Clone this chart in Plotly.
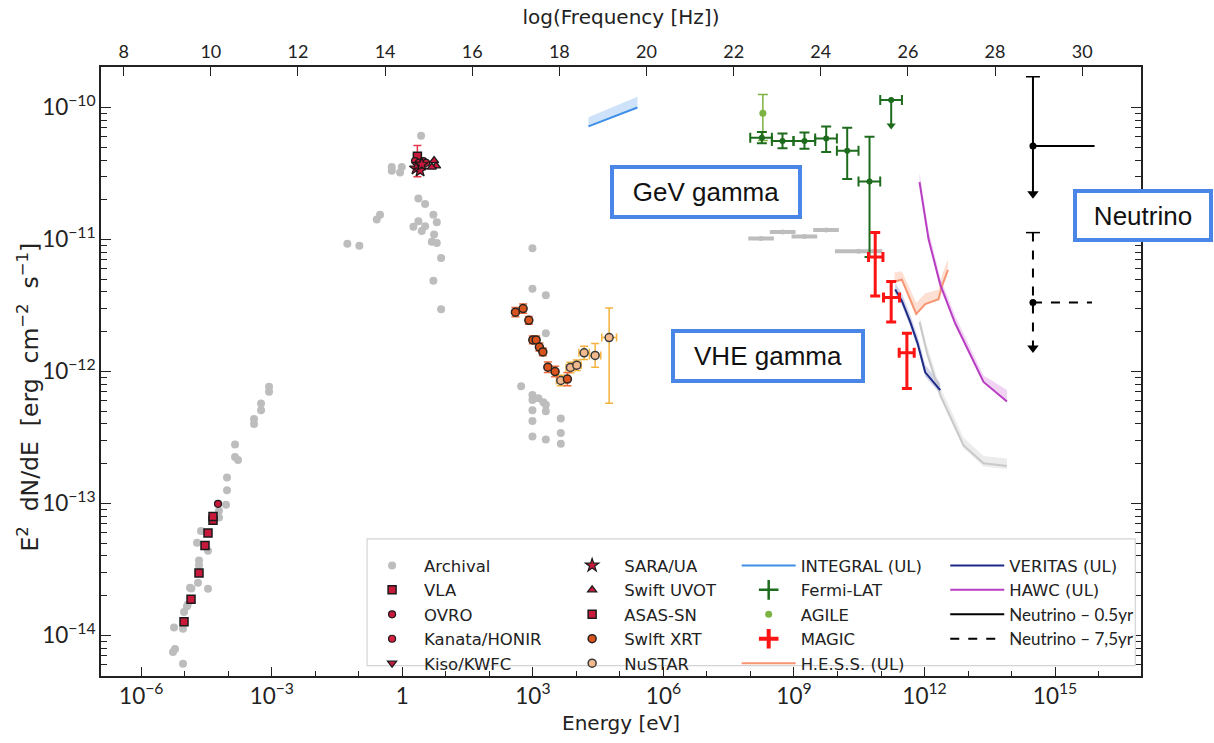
import plotly.graph_objects as go

# ---------------------------------------------------------------
# Broadband SED values, stored as log10 of energy [eV] and
# log10 of E^2 dN/dE [erg cm^-2 s^-1]
# ---------------------------------------------------------------
arch_logE = [-3.064, -3.064, -3.248, -3.248, -3.409, -3.409, -3.846, -3.846, -3.777,
             -4.030, -4.030, -4.053, -4.214, -4.214, -4.628, -4.720, -4.467, -4.674,
             -4.674, -4.697, -4.880, -4.467, -4.949, -5.018, -5.248, -5.041, -5.225,
             -5.271, -5.041, -4.849, -4.933,
             0.430, -0.244, -0.014, -0.053, -0.244, 0.368, 0.522, -0.513, -0.589, 0.713,
             0.791, 0.253, 0.368, 0.522, 0.446, 0.729, 0.676, 0.791, -1.264, -0.989,
             0.890, 0.713, 0.890,
             2.989, 2.989, 3.297, 3.297, 2.729, 2.989, 2.989, 3.126, 3.241, 3.297,
             2.989, 3.297, 2.989, 3.641, 2.989, 3.297, 3.641, 3.641]
arch_logF = [-12.117, -12.154, -12.243, -12.295, -12.361, -12.398, -12.553, -12.649, -12.671,
             -12.804, -12.900, -13.011, -13.055, -13.107, -13.210, -13.299, -13.358, -13.432,
             -13.469, -13.602, -13.639, -13.646, -13.779, -13.823, -13.941, -13.949, -14.104,
             -14.126, -14.215, -13.644, -13.767,
             -10.214, -10.451, -10.451, -10.493, -10.480, -10.690, -10.731, -10.812, -10.849, -10.812,
             -10.869, -10.904, -10.862, -10.899, -10.936, -10.963, -11.017, -11.027, -11.032, -11.047,
             -11.140, -11.312, -11.529,
             -11.066, -11.374, -11.423, -11.711, -12.112, -12.179, -12.216, -12.204, -12.233, -12.253,
             -12.295, -12.302, -12.376, -12.356, -12.494, -12.516, -12.467, -12.548]

vla_logE = [-5.018, -4.857, -4.674, -4.536, -4.467, -4.352, -4.352]
vla_logF = [-13.897, -13.727, -13.527, -13.320, -13.224, -13.128, -13.099]

ovro_logE = [-4.237]
ovro_logF = [-13.003]

kanata_logE = [0.292, 0.377, 0.483, 0.545]
kanata_logF = [-10.406, -10.419, -10.406, -10.419]

kiso_logE = [0.330, 0.407]
kiso_logF = [-10.431, -10.443]

sara_logE = [0.315, 0.407, 0.446]
sara_logF = [-10.461, -10.476, -10.431]

uvot_logE = [0.729, 0.775, 0.676]
uvot_logF = [-10.402, -10.443, -10.451]

asas_logE = [0.345]
asas_logF = [-10.369]
asas_logF_hi = [-10.288]
asas_logF_lo = [-10.524]

xrt_logE = [2.598, 2.775, 2.906, 2.998, 3.074, 3.149, 3.228, 3.343, 3.510, 3.793]
xrt_logF = [-11.551, -11.524, -11.613, -11.761, -11.761, -11.815, -11.852, -11.968, -12.001, -12.058]
xrt_dlogF = [0.035, 0.035, 0.03, 0.03, 0.03, 0.03, 0.03, 0.04, 0.04, 0.05]

nustar_logE = [3.641, 3.862, 4.009, 4.177, 4.430, 4.752]
nustar_logF = [-12.068, -11.970, -11.953, -11.859, -11.879, -11.743]
nustar_dlogF_hi = [0.04, 0.04, 0.04, 0.05, 0.09, 0.223]
nustar_dlogF_lo = [0.04, 0.04, 0.04, 0.05, 0.09, 0.498]
nustar_dlogE = [0.10, 0.10, 0.10, 0.12, 0.13, 0.17]

integral_logE = [4.276, 5.402]
integral_logF = [-10.143, -10.000]
integral_logF_top = [-10.074, -9.919]

fermi_logE = [8.262, 8.736, 9.241, 9.740, 10.223, 10.736]
fermi_logF = [-10.229, -10.254, -10.254, -10.234, -10.328, -10.561]
fermi_logF_hi = [-10.185, -10.197, -10.190, -10.143, -10.153, -10.222]
fermi_logF_lo = [-10.271, -10.308, -10.313, -10.338, -10.542, -11.133]
fermi_logE_lo = [7.995, 8.492, 8.989, 9.487, 9.986, 10.483]
fermi_logE_hi = [8.492, 8.989, 9.487, 9.986, 10.483, 10.982]

fermi_ul_logE = [11.234]
fermi_ul_logF = [-9.944]
fermi_ul_logE_lo = [10.982]
fermi_ul_logE_hi = [11.481]
fermi_ul_logF_tip = [-10.136]

agile_logE = [8.285]
agile_logF = [-10.044]
agile_logF_hi = [-9.902]
agile_logF_lo = [-10.250]

lat_arch_logE = [8.239, 8.736, 9.241, 9.740, 10.483]
lat_arch_logF = [-10.993, -10.943, -10.978, -10.928, -11.089]
lat_arch_logE_lo = [7.995, 8.492, 8.989, 9.487, 9.986]
lat_arch_logE_hi = [8.492, 8.989, 9.487, 9.986, 10.982]

magic_logE = [10.867, 11.234, 11.595]
magic_logF = [-11.133, -11.440, -11.859]
magic_logF_hi = [-10.948, -11.318, -11.711]
magic_logF_lo = [-11.428, -11.625, -12.130]
magic_logE_lo = [10.713, 11.057, 11.418]
magic_logE_hi = [11.044, 11.425, 11.763]

hess_logE = [11.310, 11.480, 11.809, 12.016, 12.322, 12.400, 12.538]
hess_logF = [-11.318, -11.305, -11.564, -11.490, -11.453, -11.354, -11.231]
hess_logF_top = [-11.25, -11.24, -11.48, -11.41, -11.38, -11.27, -11.15]

veritas_logE = [11.326, 11.480, 11.671, 11.839, 12.016, 12.361]
veritas_logF = [-11.379, -11.465, -11.625, -11.785, -12.007, -12.142]
veritas_logF_top = [-11.33, -11.41, -11.57, -11.73, -11.95, -12.09]
veritas_logF_bot = [-11.41, -11.50, -11.66, -11.82, -12.04, -12.17]

vhe_arch_logE = [11.885, 12.055, 12.361, 12.897, 13.356, 13.894]
vhe_arch_logF = [-11.625, -11.859, -12.179, -12.561, -12.696, -12.716]
vhe_arch_logF_top = [-11.58, -11.80, -12.12, -12.50, -12.64, -12.66]
vhe_arch_logF_bot = [-11.65, -11.88, -12.20, -12.58, -12.72, -12.74]

hawc_logE = [11.885, 12.092, 12.361, 12.706, 13.356, 13.894]
hawc_logF = [-10.566, -10.997, -11.342, -11.637, -12.080, -12.228]
hawc_logF_top = [-10.49, -10.93, -11.29, -11.58, -12.03, -12.14]

nu_names = ["Neutrino – 0.5yr", "Neutrino – 7,5yr"]
nu_logE = [14.492, 14.492]
nu_logE_hi = [15.908, 15.848]
nu_logF = [-10.291, -11.477]
nu_logF_top = [-9.767, -10.948]
nu_logF_tip = [-10.653, -11.822]

# axis ranges (log10 units)
x_range = [-6.926, 16.975]
y_range = [-14.308, -9.693]
freq_range = [7.479, 31.35]


def lin(vals):
    return [10 ** v for v in vals]


def up(c, h):
    return [10 ** b - 10 ** a for a, b in zip(c, h)]


def down(c, l):
    return [10 ** a - 10 ** b for a, b in zip(c, l)]


# ---------------------------------------------------------------
# colours
# ---------------------------------------------------------------
GREY = "#bdbdbd"
CRIMSON = "#c8193c"
XRT_FILL = "#d9531e"
XRT_ERR = "#ee6a3c"
NU_FILL = "#f2b98e"
NU_ERR = "#f3b33d"
FERMI = "#1d6b1d"
AGILE = "#7cb342"
MAGIC = "#ff1414"
INTEGRAL = "#3d8fe8"
HESS = "#f79471"
VERITAS = "#1f2b88"
HAWC = "#b83dc2"
EDGE = "#1a1a1a"

# legend columns
L1, L2, L3, L4 = "legend", "legend2", "legend3", "legend4"

fig = go.Figure()


def band(logE, top, bottom, color):
    """Shaded band between two curves (no legend entry)."""
    fig.add_trace(go.Scatter(x=lin(logE), y=lin(top), mode="lines", line=dict(width=0),
                             showlegend=False, hoverinfo="skip"))
    fig.add_trace(go.Scatter(x=lin(logE), y=lin(bottom), mode="lines", line=dict(width=0),
                             fill="tonexty", fillcolor=color, showlegend=False,
                             hoverinfo="skip"))


# archival points
fig.add_trace(go.Scatter(
    x=lin(arch_logE), y=lin(arch_logF), mode="markers", name="Archival",
    marker=dict(color=GREY, size=8), legend=L1, legendrank=1))

# archival LAT bins
fig.add_trace(go.Scatter(
    x=lin(lat_arch_logE), y=lin(lat_arch_logF), mode="markers", showlegend=False,
    marker=dict(color=GREY, size=5),
    error_x=dict(type="data", symmetric=False, array=up(lat_arch_logE, lat_arch_logE_hi),
                 arrayminus=down(lat_arch_logE, lat_arch_logE_lo), color=GREY,
                 thickness=4, width=2)))

# shaded uncertainty bands
band(vhe_arch_logE, vhe_arch_logF_top, vhe_arch_logF_bot, "rgba(200,200,200,0.35)")
band(integral_logE, integral_logF_top, integral_logF, "rgba(61,143,232,0.25)")
band(hess_logE, hess_logF_top, hess_logF, "rgba(247,148,113,0.3)")
band(veritas_logE, veritas_logF_top, veritas_logF_bot, "rgba(31,43,136,0.2)")
band(hawc_logE, hawc_logF_top, hawc_logF, "rgba(200,80,210,0.25)")

# limit curves
fig.add_trace(go.Scatter(x=lin(vhe_arch_logE), y=lin(vhe_arch_logF), mode="lines",
                         line=dict(color="#c9c9c9", width=2), showlegend=False))
fig.add_trace(go.Scatter(x=lin(integral_logE), y=lin(integral_logF), mode="lines",
                         line=dict(color=INTEGRAL, width=2), name="INTEGRAL (UL)",
                         legend=L3, legendrank=1))
fig.add_trace(go.Scatter(x=lin(hess_logE), y=lin(hess_logF), mode="lines",
                         line=dict(color=HESS, width=2), name="H.E.S.S. (UL)",
                         legend=L3, legendrank=5))
fig.add_trace(go.Scatter(x=lin(veritas_logE), y=lin(veritas_logF), mode="lines",
                         line=dict(color=VERITAS, width=2), name="VERITAS (UL)",
                         legend=L4, legendrank=1))
fig.add_trace(go.Scatter(x=lin(hawc_logE), y=lin(hawc_logF), mode="lines",
                         line=dict(color=HAWC, width=2), name="HAWC (UL)",
                         legend=L4, legendrank=2))

# radio
fig.add_trace(go.Scatter(
    x=lin(vla_logE), y=lin(vla_logF), mode="markers", name="VLA", legend=L1, legendrank=2,
    marker=dict(symbol="square", color=CRIMSON, size=8, line=dict(color=EDGE, width=1.5))))
fig.add_trace(go.Scatter(
    x=lin(ovro_logE), y=lin(ovro_logF), mode="markers", name="OVRO", legend=L1, legendrank=3,
    marker=dict(symbol="circle", color=CRIMSON, size=7, line=dict(color=EDGE, width=1.2))))

# optical / UV
fig.add_trace(go.Scatter(
    x=lin(asas_logE), y=lin(asas_logF), mode="markers", name="ASAS-SN", legend=L2, legendrank=3,
    marker=dict(symbol="square", color=CRIMSON, size=8, line=dict(color=EDGE, width=1.5)),
    error_y=dict(type="data", symmetric=False, array=up(asas_logF, asas_logF_hi),
                 arrayminus=down(asas_logF, asas_logF_lo), color="#e8354a",
                 thickness=1.5, width=4)))
fig.add_trace(go.Scatter(
    x=lin(kanata_logE), y=lin(kanata_logF), mode="markers", name="Kanata/HONIR",
    legend=L1, legendrank=4,
    marker=dict(symbol="circle", color="#d81f3f", size=7, line=dict(color=EDGE, width=1.2))))
fig.add_trace(go.Scatter(
    x=lin(kiso_logE), y=lin(kiso_logF), mode="markers", name="Kiso/KWFC", legend=L1, legendrank=5,
    marker=dict(symbol="triangle-down", color=CRIMSON, size=8, line=dict(color=EDGE, width=1.2))))
fig.add_trace(go.Scatter(
    x=lin(sara_logE), y=lin(sara_logF), mode="markers", name="SARA/UA", legend=L2, legendrank=1,
    marker=dict(symbol="star", color=CRIMSON, size=10, line=dict(color=EDGE, width=1.2))))
fig.add_trace(go.Scatter(
    x=lin(uvot_logE), y=lin(uvot_logF), mode="markers", name="Swift UVOT", legend=L2, legendrank=2,
    marker=dict(symbol="triangle-up", color=CRIMSON, size=8, line=dict(color=EDGE, width=1.2))))

# X-ray
fig.add_trace(go.Scatter(
    x=lin(nustar_logE), y=lin(nustar_logF), mode="markers", name="NuSTAR", legend=L2, legendrank=5,
    marker=dict(symbol="circle", color=NU_FILL, size=8, line=dict(color="#3a3a3a", width=1.5)),
    error_y=dict(type="data", symmetric=False,
                 array=[10 ** (c + d) - 10 ** c for c, d in zip(nustar_logF, nustar_dlogF_hi)],
                 arrayminus=[10 ** c - 10 ** (c - d) for c, d in zip(nustar_logF, nustar_dlogF_lo)],
                 color=NU_ERR, thickness=1.5, width=4),
    error_x=dict(type="data", symmetric=False,
                 array=[10 ** (c + d) - 10 ** c for c, d in zip(nustar_logE, nustar_dlogE)],
                 arrayminus=[10 ** c - 10 ** (c - d) for c, d in zip(nustar_logE, nustar_dlogE)],
                 color=NU_ERR, thickness=1.5, width=4)))
fig.add_trace(go.Scatter(
    x=lin(xrt_logE), y=lin(xrt_logF), mode="markers", name="Swlft XRT", legend=L2, legendrank=4,
    marker=dict(symbol="circle", color=XRT_FILL, size=8, line=dict(color="#2a2420", width=1.5)),
    error_y=dict(type="data", symmetric=False,
                 array=[10 ** (c + d) - 10 ** c for c, d in zip(xrt_logF, xrt_dlogF)],
                 arrayminus=[10 ** c - 10 ** (c - d) for c, d in zip(xrt_logF, xrt_dlogF)],
                 color=XRT_ERR, thickness=1.5, width=4)))

# gamma rays
fig.add_trace(go.Scatter(
    x=lin(agile_logE), y=lin(agile_logF), mode="markers", name="AGILE", legend=L3, legendrank=3,
    marker=dict(symbol="circle", color=AGILE, size=7),
    error_y=dict(type="data", symmetric=False, array=up(agile_logF, agile_logF_hi),
                 arrayminus=down(agile_logF, agile_logF_lo), color=AGILE,
                 thickness=1.5, width=5)))
fig.add_trace(go.Scatter(
    x=lin(fermi_logE), y=lin(fermi_logF), mode="markers", showlegend=False,
    marker=dict(symbol="circle", color=FERMI, size=6),
    error_y=dict(type="data", symmetric=False, array=up(fermi_logF, fermi_logF_hi),
                 arrayminus=down(fermi_logF, fermi_logF_lo), color=FERMI,
                 thickness=2, width=5),
    error_x=dict(type="data", symmetric=False, array=up(fermi_logE, fermi_logE_hi),
                 arrayminus=down(fermi_logE, fermi_logE_lo), color=FERMI,
                 thickness=2, width=5)))
# Fermi-LAT upper limit: horizontal bin, then a downward arrow
fig.add_trace(go.Scatter(
    x=lin(fermi_ul_logE), y=lin(fermi_ul_logF), mode="markers", showlegend=False,
    marker=dict(symbol="circle", color=FERMI, size=6),
    error_x=dict(type="data", symmetric=False, array=up(fermi_ul_logE, fermi_ul_logE_hi),
                 arrayminus=down(fermi_ul_logE, fermi_ul_logE_lo), color=FERMI,
                 thickness=2, width=5)))
fig.add_trace(go.Scatter(
    x=lin(fermi_ul_logE * 2), y=lin(fermi_ul_logF + fermi_ul_logF_tip), mode="lines",
    line=dict(color=FERMI, width=2), showlegend=False))
fig.add_trace(go.Scatter(
    x=lin(fermi_ul_logE), y=lin(fermi_ul_logF_tip), mode="markers", showlegend=False,
    marker=dict(symbol="triangle-down", color=FERMI, size=8)))
fig.add_trace(go.Scatter(
    x=[None], y=[None], mode="markers", name="Fermi-LAT", legend=L3, legendrank=2,
    marker=dict(symbol="cross-thin", size=14, line=dict(color=FERMI, width=2.5))))

fig.add_trace(go.Scatter(
    x=lin(magic_logE), y=lin(magic_logF), mode="markers", showlegend=False,
    marker=dict(symbol="circle", color=MAGIC, size=3),
    error_y=dict(type="data", symmetric=False, array=up(magic_logF, magic_logF_hi),
                 arrayminus=down(magic_logF, magic_logF_lo), color=MAGIC,
                 thickness=3, width=5),
    error_x=dict(type="data", symmetric=False, array=up(magic_logE, magic_logE_hi),
                 arrayminus=down(magic_logE, magic_logE_lo), color=MAGIC,
                 thickness=3, width=5)))
fig.add_trace(go.Scatter(
    x=[None], y=[None], mode="markers", name="MAGIC", legend=L3, legendrank=4,
    marker=dict(symbol="cross-thin", size=14, line=dict(color=MAGIC, width=4))))

# neutrino upper limits
NU_LABEL_STYLE = "font-family:Lato, sans-serif;font-size:17px"
for i, (name, dash, rank) in enumerate(zip(nu_names, ["solid", "dash"], [3, 4])):
    e, e_hi = nu_logE[i], nu_logE_hi[i]
    f, f_top, f_tip = nu_logF[i], nu_logF_top[i], nu_logF_tip[i]
    fig.add_trace(go.Scatter(x=lin([e, e_hi]), y=lin([f, f]), mode="lines",
                             name=f'<span style="{NU_LABEL_STYLE}">{name}</span>',
                             legend=L4, legendrank=rank,
                             line=dict(color="black", width=2, dash=dash)))
    fig.add_trace(go.Scatter(x=lin([e, e]), y=lin([f_top, f_tip]), mode="lines",
                             showlegend=False, line=dict(color="black", width=2, dash=dash)))
    fig.add_trace(go.Scatter(x=lin([e]), y=lin([f_top]), mode="markers", showlegend=False,
                             marker=dict(symbol="line-ew", size=10,
                                         line=dict(color="black", width=1.5))))
    fig.add_trace(go.Scatter(x=lin([e]), y=lin([f]), mode="markers", showlegend=False,
                             marker=dict(symbol="circle", color="black", size=7)))
    fig.add_trace(go.Scatter(x=lin([e]), y=lin([f_tip]), mode="markers", showlegend=False,
                             marker=dict(symbol="triangle-down", color="black", size=10)))

# frequency axis carrier
fig.add_trace(go.Scatter(x=[None], y=[None], xaxis="x2", yaxis="y", showlegend=False))

TICK_FONT = dict(family="Lato, DejaVu Sans, sans-serif", size=18, color="#222222")
TITLE_FAMILY = "DejaVu Sans, sans-serif"
PLOT_L, PLOT_R, PLOT_T, PLOT_B = 101, 1140.7, 66.7, 691.7


def paper_x(px):
    return (px - PLOT_L) / (PLOT_R - PLOT_L)


def paper_y(py):
    return (PLOT_B - py) / (PLOT_B - PLOT_T)


LEG_FONT = dict(family="DejaVu Sans, sans-serif", size=16.5, color="#222222")
ITEM_W = 54


def column_legend(text_left_px):
    return dict(orientation="v", x=paper_x(text_left_px - ITEM_W - 11), y=paper_y(560.5),
                xanchor="left", yanchor="top", bgcolor="rgba(0,0,0,0)", borderwidth=0,
                font=LEG_FONT, traceorder="normal", tracegroupgap=0, itemwidth=ITEM_W)


fig.update_layout(
    width=1214, height=743,
    margin=dict(l=101, r=73, t=67, b=51),
    paper_bgcolor="white", plot_bgcolor="white",
    font=TICK_FONT,
    showlegend=True,
    xaxis=dict(
        type="log", range=x_range, dtick=3, tick0=0, exponentformat="power",
        showgrid=False, zeroline=False, showline=True, linecolor="#222222", linewidth=1.5,
        mirror=True, ticks="inside", ticklen=9, tickwidth=1.3, tickcolor="#222222",
        minor=dict(dtick=1, ticks="inside", ticklen=5, tickwidth=1.1, tickcolor="#222222"),
        tickfont=TICK_FONT,
        title=dict(text="Energy [eV]", font=dict(family=TITLE_FAMILY, size=20), standoff=8),
    ),
    xaxis2=dict(
        overlaying="x", side="top", anchor="y", range=freq_range, dtick=2, tick0=0,
        showgrid=False, zeroline=False, showline=True, linecolor="#222222", linewidth=1.5,
        ticks="inside", ticklen=9, tickwidth=1.3, tickcolor="#222222", tickfont=TICK_FONT,
        title=dict(text="log(Frequency [Hz])", font=dict(family=TITLE_FAMILY, size=20),
                   standoff=10),
    ),
    yaxis=dict(
        type="log", range=y_range, dtick=1, exponentformat="power",
        showgrid=False, zeroline=False, showline=True, linecolor="#222222", linewidth=1.5,
        mirror="ticks", ticks="inside", ticklen=10, tickwidth=1.3, tickcolor="#222222",
        minor=dict(dtick="D1", ticks="inside", ticklen=6, tickwidth=1.1, tickcolor="#222222"),
        tickfont=TICK_FONT,
    ),
    legend=column_legend(425),
    legend2=column_legend(625),
    legend3=column_legend(801.5),
    legend4=column_legend(1010),
)

# y-axis title, set close to the tick labels
fig.add_annotation(text="E<sup>2</sup>  dN/dE  [erg  cm<sup>−2</sup>  s<sup>−1</sup>]",
                   xref="paper", yref="paper", x=paper_x(29), y=paper_y(405),
                   xanchor="center", yanchor="middle", textangle=-90, showarrow=False,
                   font=dict(family=TITLE_FAMILY, size=23.5, color="#222222"))

# legend frame shared by the four columns
fig.add_shape(type="rect", xref="paper", yref="paper", layer="above",
              x0=paper_x(367), x1=paper_x(1135), y0=paper_y(681), y1=paper_y(551),
              line=dict(color="#d4d4d4", width=1.2), fillcolor="rgba(255,255,255,0.85)")

BOX = dict(xref="paper", yref="paper", showarrow=False, bgcolor="white",
           xanchor="center", yanchor="middle",
           bordercolor="#4a86e8", borderwidth=4, borderpad=0,
           font=dict(family="Liberation Sans, Arial, sans-serif", size=26, color="#111111"))

fig.add_annotation(text="GeV gamma", x=paper_x(706), y=paper_y(194.5), width=184, height=46, **BOX)
fig.add_annotation(text="VHE gamma", x=paper_x(768), y=paper_y(363), width=186, height=46, **BOX)
fig.add_annotation(text="Neutrino", x=paper_x(1142.5), y=paper_y(219.3), width=132, height=45, **BOX)

fig.write_html("out.html")
